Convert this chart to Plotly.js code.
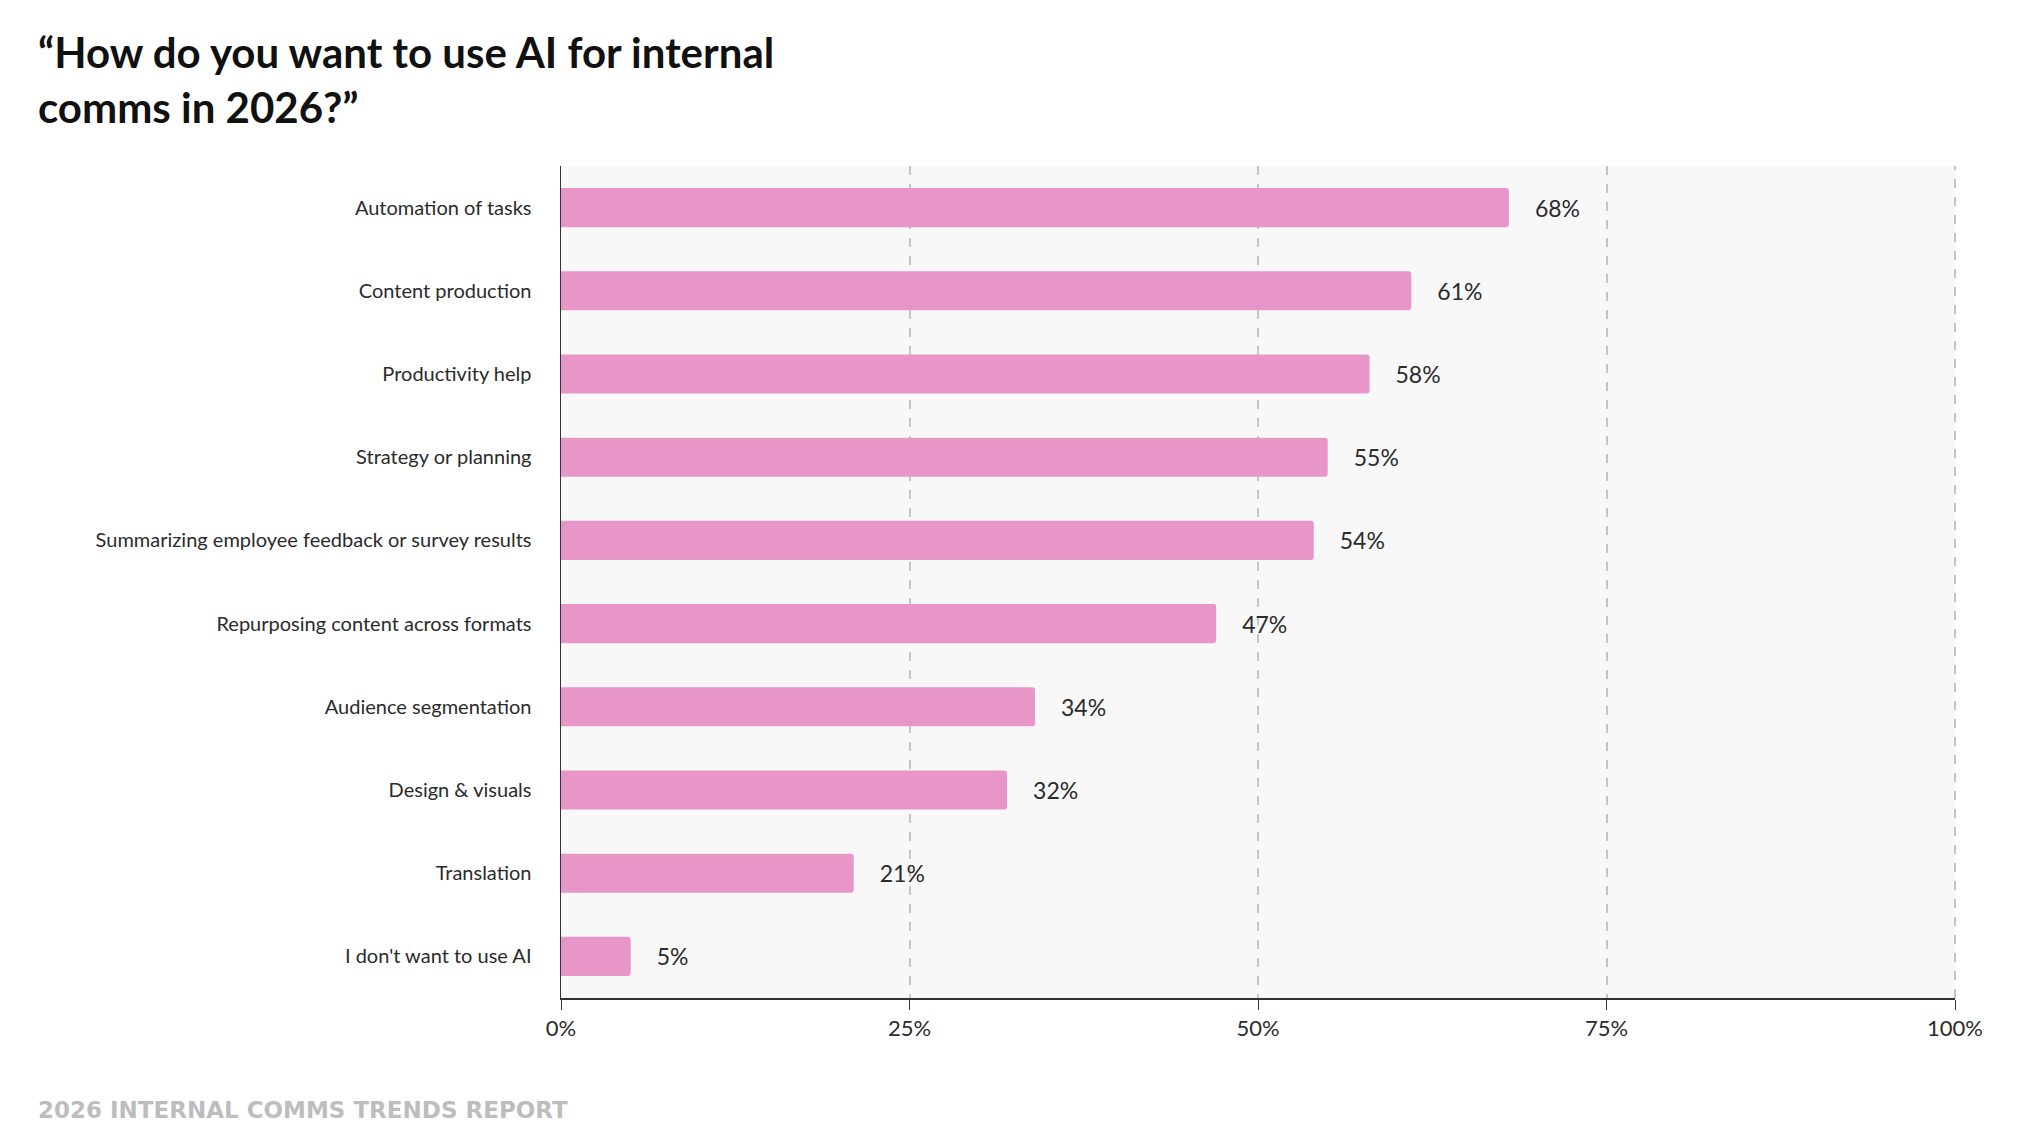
<!DOCTYPE html>
<html>
<head>
<meta charset="utf-8">
<script src="https://cdn.plot.ly/plotly-3.0.1.min.js"></script>
<style>
  html, body { margin: 0; padding: 0; background: #fff; }
  #chart { width: 2020px; height: 1144px; }
</style>
</head>
<body>
<div id="chart"></div>
<script>
// Survey answers, top to bottom
const categories = [
  'Automation of tasks',
  'Content production',
  'Productivity help',
  'Strategy or planning',
  'Summarizing employee feedback or survey results',
  'Repurposing content across formats',
  'Audience segmentation',
  'Design & visuals',
  'Translation',
  "I don't want to use AI",
];
const shares = [68, 61, 58, 55, 54, 47, 34, 32, 21, 5];
const tickVals = [0, 25, 50, 75, 100];
const tickText = ['0%', '25%', '50%', '75%', '100%'];

const COLORS = {
  bar:   '#e895c8',
  text:  '#2b2b2b',
  grid:  '#c4c4c4',
  plot:  '#f8f8f8',
  foot:  '#bdbdbd',
};

const trace = {
  type: 'bar',
  orientation: 'h',
  y: categories,
  x: shares,
  width: 0.47,
  marker: { color: COLORS.bar, cornerradius: 3 },
  text: shares.map(v => '\u2002\u2002' + v + '%'),
  textposition: 'outside',
  cliponaxis: false,
  textfont: { size: 23, color: COLORS.text },
  hoverinfo: 'skip',
};

const layout = {
  width: 2020, height: 1144,
  paper_bgcolor: '#fff',
  plot_bgcolor: COLORS.plot,
  font: { family: 'Lato, "Open Sans", sans-serif', color: COLORS.text },
  margin: { l: 561, r: 65, t: 166, b: 146 },
  showlegend: false,
  xaxis: {
    range: [0, 100],
    tickvals: tickVals, ticktext: tickText,
    showgrid: true, gridcolor: COLORS.grid, griddash: 'dash', gridwidth: 2,
    zeroline: false,
    showline: true, linecolor: '#333', linewidth: 1.5,
    ticks: 'outside', ticklen: 10, tickcolor: '#333',
    tickfont: { size: 22, color: COLORS.text },
  },
  yaxis: {
    autorange: 'reversed',
    showline: true, linecolor: '#333', linewidth: 1.5,
    ticks: '', ticklabelstandoff: 24,
    tickfont: { size: 20, color: COLORS.text },
  },
  shapes: [{
    type: 'line', xref: 'paper', yref: 'paper', x0: 1, x1: 1, y0: 0, y1: 1,
    line: { color: COLORS.grid, width: 2, dash: 'dash' },
  }],
  annotations: [{
    text: '<b>“How do you want to use AI for internal<br>comms in 2026?”</b>',
    xref: 'paper', yref: 'paper', x: -0.3766, y: 1.17,
    xanchor: 'left', yanchor: 'top', align: 'left', showarrow: false,
    font: { size: 42, color: '#111' },
  }, {
    text: '<b>2026 INTERNAL COMMS TRENDS REPORT</b>',
    xref: 'paper', yref: 'paper', x: -0.3766, y: -0.135,
    xanchor: 'left', yanchor: 'middle', showarrow: false,
    font: { size: 23, color: COLORS.foot, family: '"DejaVu Sans", sans-serif' },
  }],
};

Plotly.newPlot('chart', [trace], layout, { displayModeBar: false, staticPlot: true });
</script>
</body>
</html>
